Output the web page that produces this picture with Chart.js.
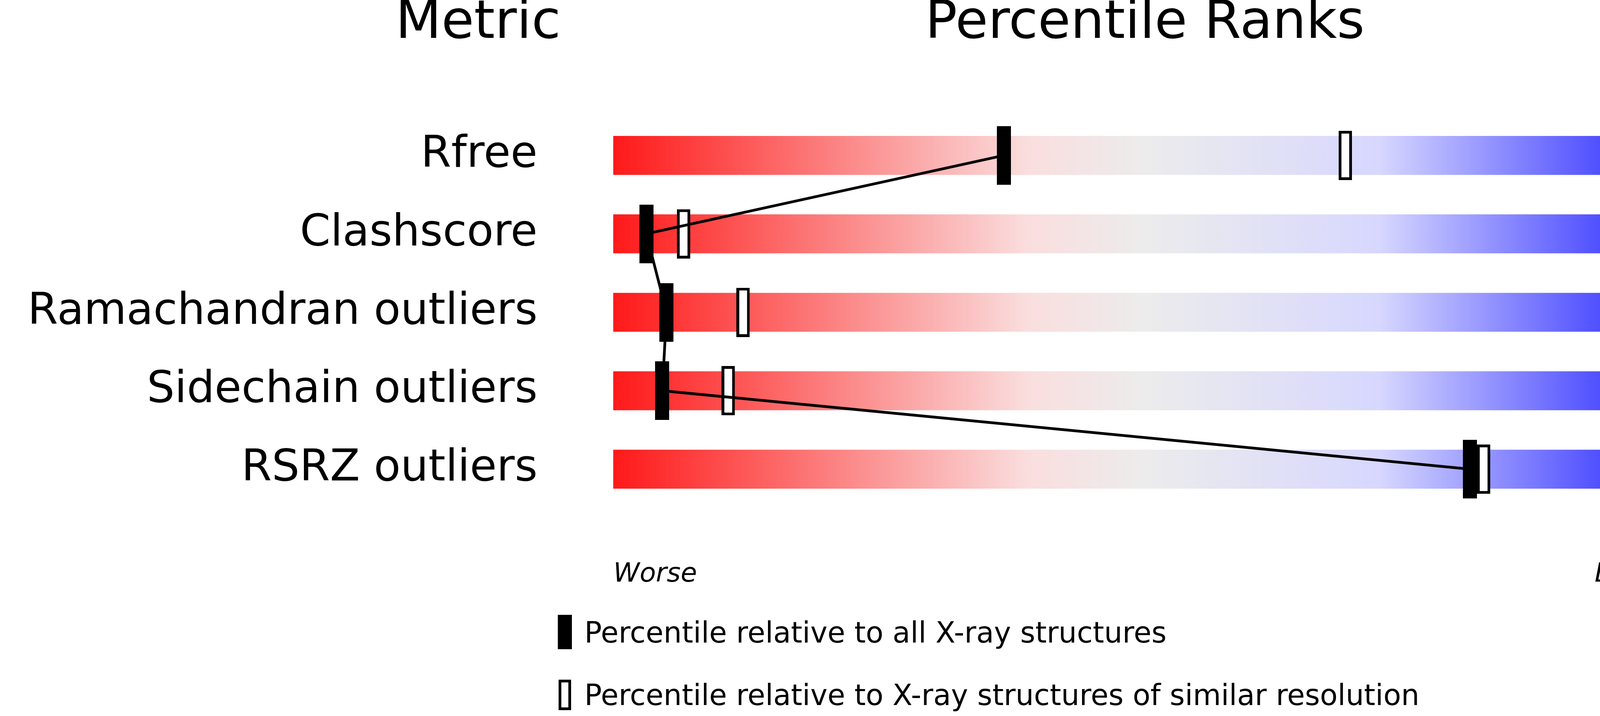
<!DOCTYPE html>
<html>
<head>
<meta charset="utf-8">
<script src="https://cdn.jsdelivr.net/npm/chart.js@4"></script>
<style>
  html, body { margin: 0; padding: 0; background: #fff; overflow: hidden; }
  #chart { display: block; width: 4858px; height: 1833px; }
</style>
</head>
<body>
<canvas id="chart" width="4858" height="1833"></canvas>
<script>
// data
let metrics = ['Rfree', 'Clashscore', 'Ramachandran outliers', 'Sidechain outliers', 'RSRZ outliers'];
let values = ['0.251', '34', '2.7%', '12.4%', '1.1%'];
let pctAll = [36.7, 3.1, 5.0, 4.6, 80.5];
let pctSimilar = [68.8, 6.6, 12.2, 10.8, 81.8];

const FONT = 'DejaVu Sans';

function markerCanvas(filled, w, h) {
  let c = document.createElement('canvas');
  c.width = w; c.height = h;
  let g = c.getContext('2d');
  if (filled) {
    g.fillStyle = '#000';
    g.fillRect(0, 0, w, h);
  } else {
    g.fillStyle = '#fff';
    g.fillRect(0, 0, w, h);
    g.strokeStyle = '#000';
    g.lineWidth = 7;
    g.strokeRect(3.5, 3.5, w - 7, h - 7);
  }
  return c;
}
let solidMark = markerCanvas(true, 36, 150);
let openMark = markerCanvas(false, 34, 126);
let legendOpen = markerCanvas(false, 32, 78);

function gradient(ctx) {
  let area = ctx.chart.chartArea;
  if (!area) return 'red';
  let g = ctx.chart.ctx.createLinearGradient(area.left, 0, area.right, 0);
  g.addColorStop(0, 'rgb(255,0,0)');
  g.addColorStop(0.4, 'rgb(250,222,222)');
  g.addColorStop(0.5, 'rgb(236,236,236)');
  g.addColorStop(0.7, 'rgb(215,215,255)');
  g.addColorStop(1, 'rgb(0,0,255)');
  return g;
}

let extras = {
  id: 'extras',
  afterDraw(chart) {
    let c = chart.ctx, x = chart.scales.x;
    c.save();
    c.fillStyle = '#000';
    c.textBaseline = 'middle';
    c.textAlign = 'center';
    c.font = '136px ' + FONT;
    c.fillText('Metric', 1224, 62);
    c.fillText('Percentile Ranks', 2931, 62);
    c.fillText('Value', 4625, 62);
    c.font = 'italic 68px ' + FONT;
    c.textAlign = 'left';
    c.fillText('Worse', x.getPixelForValue(0), 1471);
    c.textAlign = 'right';
    c.fillText('Better', x.getPixelForValue(100), 1471);
    c.textAlign = 'left';
    c.font = '74px ' + FONT;
    c.drawImage(solidMark, 1428, 1574, 36, 88);
    c.fillText('Percentile relative to all X-ray structures', 1496, 1626);
    c.drawImage(legendOpen, 1430, 1740);
    c.fillText('Percentile relative to X-ray structures of similar resolution', 1496, 1786);
    c.restore();
  }
};

let ctx = document.getElementById('chart').getContext('2d');
let chart = new Chart(ctx, {
  type: 'bar',
  data: {
    datasets: [
      {
        type: 'line',
        data: pctAll.map((v, i) => ({x: v, y: i})),
        borderColor: '#000',
        borderWidth: 7,
        pointStyle: solidMark,
        pointRadius: 10,
        order: 1
      },
      {
        type: 'scatter',
        data: pctSimilar.map((v, i) => ({x: v, y: i})),
        pointStyle: openMark,
        pointRadius: 10,
        order: 2
      },
      {
        type: 'bar',
        indexAxis: 'y',
        data: metrics.map((m, i) => ({x: [0, 100], y: i})),
        backgroundColor: gradient,
        barThickness: 99,
        order: 3
      }
    ]
  },
  options: {
    responsive: false,
    animation: false,
    devicePixelRatio: 1,
    layout: { padding: { top: 172, bottom: 406, left: 0, right: 0 } },
    plugins: { legend: { display: false }, tooltip: { enabled: false } },
    scales: {
      x: { type: 'linear', min: 0, max: 100, display: false },
      y: {
        type: 'linear', position: 'left', min: -0.5, max: 4.5, reverse: true,
        grid: { display: false }, border: { display: false },
        afterBuildTicks: s => { s.ticks = metrics.map((m, i) => ({value: i})); },
        afterFit: s => { s.width = 1434; },
        ticks: { padding: 50, color: '#000', font: { family: FONT, size: 112 },
                 callback: v => metrics[v] }
      },
      y2: {
        type: 'linear', position: 'right', min: -0.5, max: 4.5, reverse: true,
        grid: { display: false }, border: { display: false },
        afterBuildTicks: s => { s.ticks = values.map((m, i) => ({value: i})); },
        afterFit: s => { s.width = 428; },
        ticks: { padding: 56, color: '#000', font: { family: FONT, size: 112 },
                 callback: v => values[v] }
      }
    }
  },
  plugins: [extras]
});
</script>
</body>
</html>
